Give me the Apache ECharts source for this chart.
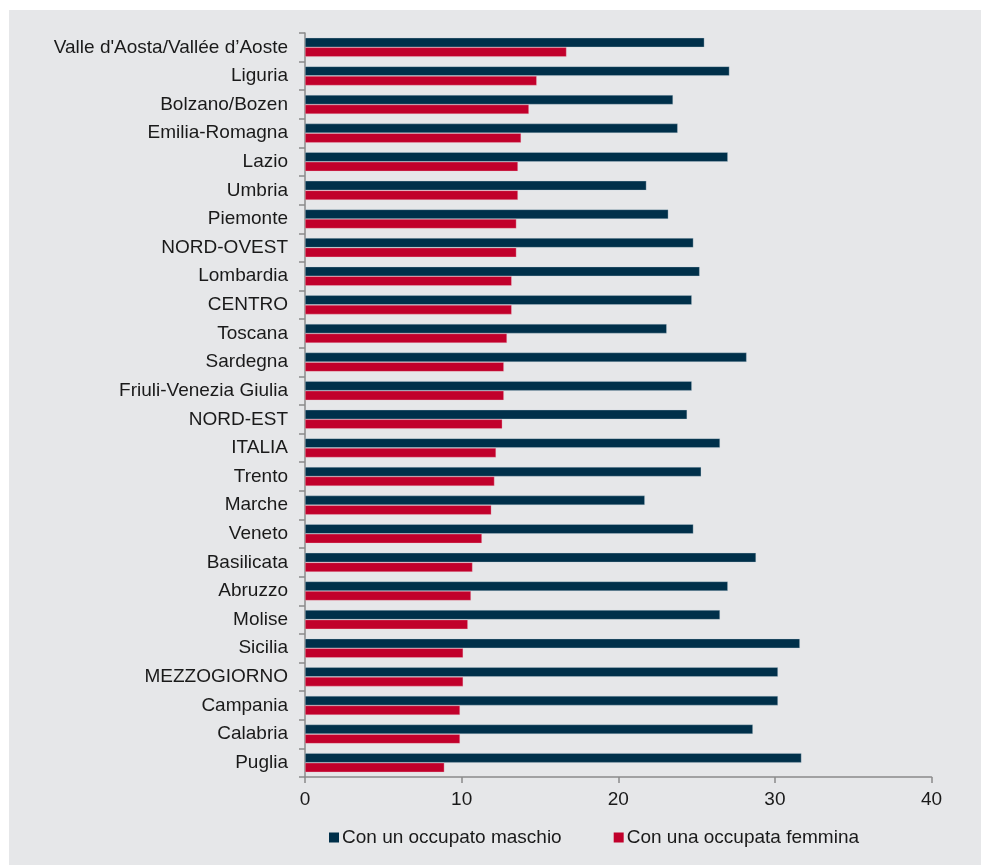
<!DOCTYPE html>
<html>
<head>
<meta charset="utf-8">
<script src="https://cdn.jsdelivr.net/npm/echarts@6/dist/echarts.min.js"></script>
<style>
  html, body { margin: 0; padding: 0; background: #ffffff; }
  #chart { width: 981px; height: 865px; }
</style>
</head>
<body>
<div id="chart"></div>
<script>
const categories = [
  "Valle d'Aosta/Vallée d’Aoste", "Liguria", "Bolzano/Bozen", "Emilia-Romagna", "Lazio",
  "Umbria", "Piemonte", "NORD-OVEST", "Lombardia", "CENTRO", "Toscana", "Sardegna",
  "Friuli-Venezia Giulia", "NORD-EST", "ITALIA", "Trento", "Marche", "Veneto",
  "Basilicata", "Abruzzo", "Molise", "Sicilia", "MEZZOGIORNO", "Campania", "Calabria", "Puglia"
];
const maschio = [
  25.5, 27.1, 23.5, 23.8, 27.0, 21.8, 23.2, 24.8, 25.2, 24.7, 23.1, 28.2,
  24.7, 24.4, 26.5, 25.3, 21.7, 24.8, 28.8, 27.0, 26.5, 31.6, 30.2, 30.2, 28.6, 31.7
];
const femmina = [
  16.7, 14.8, 14.3, 13.8, 13.6, 13.6, 13.5, 13.5, 13.2, 13.2, 12.9, 12.7,
  12.7, 12.6, 12.2, 12.1, 11.9, 11.3, 10.7, 10.6, 10.4, 10.1, 10.1, 9.9, 9.9, 8.9
];
const seriesNames = ["Con un occupato maschio", "Con una occupata femmina"];
const xTicks = { min: 0, max: 40, interval: 10 };

const chart = echarts.init(document.getElementById('chart'), null, { renderer: 'canvas' });
const font = 'Liberation Sans, Arial, sans-serif';
const txt = '#1a1a1a';
const axisCol = '#8a8a8a';
const navy = '#00304a';
const red = '#c1002b';

chart.setOption({
  backgroundColor: '#ffffff',
  animation: false,
  graphic: [{
    type: 'rect', left: 9, top: 10, z: -10,
    shape: { width: 972, height: 855 },
    style: { fill: '#e6e7e9' }
  }],
  grid: { left: 305, top: 33, width: 626.5, height: 744, containLabel: false },
  legend: {
    data: [
      { name: seriesNames[0], itemStyle: { color: navy, borderWidth: 0 } },
      { name: seriesNames[1], itemStyle: { color: red, borderWidth: 0 } }
    ],
    left: 324, top: 823,
    itemWidth: 10, itemHeight: 10, itemGap: 52,
    icon: 'rect',
    textStyle: { fontFamily: font, fontSize: 19, color: txt, padding: [0, 0, 0, -2] }
  },
  xAxis: {
    type: 'value', min: xTicks.min, max: xTicks.max, interval: xTicks.interval,
    axisLine: { show: true, lineStyle: { color: axisCol, width: 1.5 } },
    axisTick: { show: true, length: 6, lineStyle: { color: axisCol, width: 1.5 } },
    splitLine: { show: false },
    axisLabel: { fontFamily: font, fontSize: 19, color: txt, margin: 13 }
  },
  yAxis: {
    type: 'category', data: categories, inverse: true,
    axisLine: { show: true, lineStyle: { color: axisCol, width: 1.5 } },
    axisTick: { show: true, length: 6, lineStyle: { color: axisCol, width: 1.5 } },
    axisLabel: { fontFamily: font, fontSize: 19, color: txt, margin: 17 }
  },
  series: [
    {
      name: seriesNames[0], type: 'bar', data: maschio,
      barGap: '0%', barCategoryGap: '33%',
      itemStyle: { color: navy, borderColor: 'rgba(200,215,225,0.55)', borderWidth: 0.6 }
    },
    {
      name: seriesNames[1], type: 'bar', data: femmina,
      barGap: '0%', barCategoryGap: '33%',
      itemStyle: { color: red, borderColor: 'rgba(240,200,210,0.55)', borderWidth: 0.6 }
    }
  ]
});
</script>
</body>
</html>
